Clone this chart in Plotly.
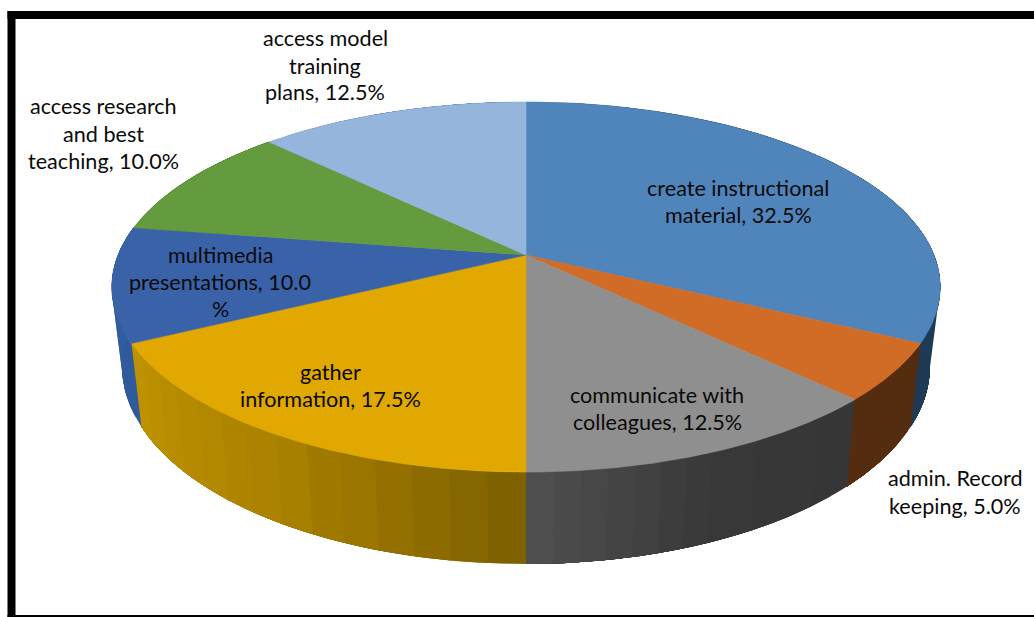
import numpy as np
import plotly.graph_objects as go

# Share of each activity, clockwise from twelve o'clock
categories = [
    "create instructional material",
    "admin. Record keeping",
    "communicate with colleagues",
    "gather information",
    "multimedia presentations",
    "access research and best teaching",
    "access model training plans",
]
shares = [32.5, 5.0, 12.5, 17.5, 10.0, 10.0, 12.5]

# Label text, one entry per printed line; {:.1f} takes the slice's share
label_lines = [
    ["create instructional", "material, {:.1f}%"],
    ["admin. Record", "keeping, {:.1f}%"],
    ["communicate with", "colleagues, {:.1f}%"],
    ["gather", "information, {:.1f}%"],
    ["multimedia", "presentations, {:.1f}", "%"],
    ["access research", "and best", "teaching, {:.1f}%"],
    ["access model", "training", "plans, {:.1f}%"],
]

top_colors = ["#5085BB", "#D06C26", "#8F8F8F", "#E0A800", "#3A62A8", "#649B3E", "#95B5DC"]
# Wall shading stops, evenly spaced along each slice's sweep
wall_colors = [
    [(30, 58, 85), (30, 58, 85)],
    [(84, 44, 16), (84, 44, 16)],
    [(54, 54, 54), (56, 56, 56), (80, 80, 80)],
    [(124, 95, 0), (170, 130, 0), (192, 146, 0)],
    [(47, 90, 156), (50, 94, 160)],
    [(60, 100, 40), (60, 100, 40)],
    [(90, 110, 140), (90, 110, 140)],
]

# Label anchors: centre x and the y of each printed line
label_pos = [
    (738, [188, 215]),
    (955, [478, 506]),
    (657, [395, 422]),
    (330, [372, 399]),
    (220, [255, 282, 309]),
    (103, [106, 134, 161]),
    (325, [38, 66, 92]),
]

# Perspective disc: apex position, axis scales and foreshortening
APEX_X, APEX_Y = 526.0, 255.0
SCALE_X, SCALE_Y, PERSP = 408.0, 179.5, 0.173
# The underside of the disc relative to the top face
BASE_SX, BASE_SY, BASE_Y = 0.975, 1.066, 332.6
WALL_BANDS = 14
FONT = "Lato"
FONT_SIZE = 21.6


def rim(theta_deg):
    """Offsets from the apex for clockwise angles measured from the top."""
    t = np.radians(theta_deg)
    w = 1 + PERSP * np.cos(t)
    return SCALE_X * np.sin(t) / w, -SCALE_Y * np.cos(t) / w


def shade(stops, f):
    """Colour at fraction f along a list of evenly spaced stops."""
    pos = f * (len(stops) - 1)
    j = min(int(pos), len(stops) - 2)
    t = pos - j
    rgb = [int(round(a + (b - a) * t)) for a, b in zip(stops[j], stops[j + 1])]
    return "rgb({},{},{})".format(*rgb)


edges = np.concatenate([[0.0], np.cumsum(shares)]) * 3.6
fig = go.Figure()


def add_poly(xs, ys, color, name, width=0.0):
    fig.add_trace(go.Scatter(
        x=xs, y=ys, mode="lines", fill="toself", fillcolor=color,
        line=dict(color=color, width=width), name=name,
        hoverinfo="name", showlegend=False,
    ))


def wall(th):
    """Outline of the side wall beneath the rim between the given angles."""
    dx, dy = rim(th)
    xs = np.concatenate([APEX_X + dx, APEX_X + BASE_SX * dx[::-1]])
    ys = np.concatenate([APEX_Y + dy, BASE_Y + BASE_SY * dy[::-1]])
    return xs, ys


# Side walls first: each band runs on to the slice's end so that the next
# band paints over it and no seams show through
for i, name in enumerate(categories):
    band_edges = np.linspace(edges[i], edges[i + 1], WALL_BANDS + 1)
    for k in range(WALL_BANDS):
        xs, ys = wall(np.linspace(band_edges[k], edges[i + 1], 40))
        add_poly(xs, ys, shade(wall_colors[i], (k + 0.5) / WALL_BANDS), name)

# Top faces
for i, name in enumerate(categories):
    th = np.linspace(edges[i], edges[i + 1], 160)
    dx, dy = rim(th)
    xs = np.concatenate([[APEX_X], APEX_X + dx, [APEX_X]])
    ys = np.concatenate([[APEX_Y], APEX_Y + dy, [APEX_Y]])
    add_poly(xs, ys, top_colors[i], name, width=0.6)

annotations = []
for share, lines, (cx, line_ys) in zip(shares, label_lines, label_pos):
    for line, ly in zip(lines, line_ys):
        annotations.append(dict(
            x=cx, y=ly, text=line.format(share), showarrow=False,
            xanchor="center", yanchor="middle",
            font=dict(family=FONT, size=FONT_SIZE, color="#0a0a0a"),
        ))

# Heavy frame on the left and top, thin rule along the bottom
frame = [
    dict(type="rect", x0=7.5, x1=15.5, y0=11, y1=617, fillcolor="black", line_width=0),
    dict(type="rect", x0=7.5, x1=1034, y0=11, y1=19, fillcolor="black", line_width=0),
    dict(type="rect", x0=7.5, x1=1034, y0=615, y1=617, fillcolor="black", line_width=0),
]

fig.update_layout(
    width=1034, height=617, margin=dict(l=0, r=0, t=0, b=0),
    paper_bgcolor="white", plot_bgcolor="white",
    xaxis=dict(range=[0, 1034], visible=False, fixedrange=True),
    yaxis=dict(range=[617, 0], visible=False, fixedrange=True),
    annotations=annotations, shapes=frame, showlegend=False,
)
fig.write_html("out.html", config={"displayModeBar": False})
